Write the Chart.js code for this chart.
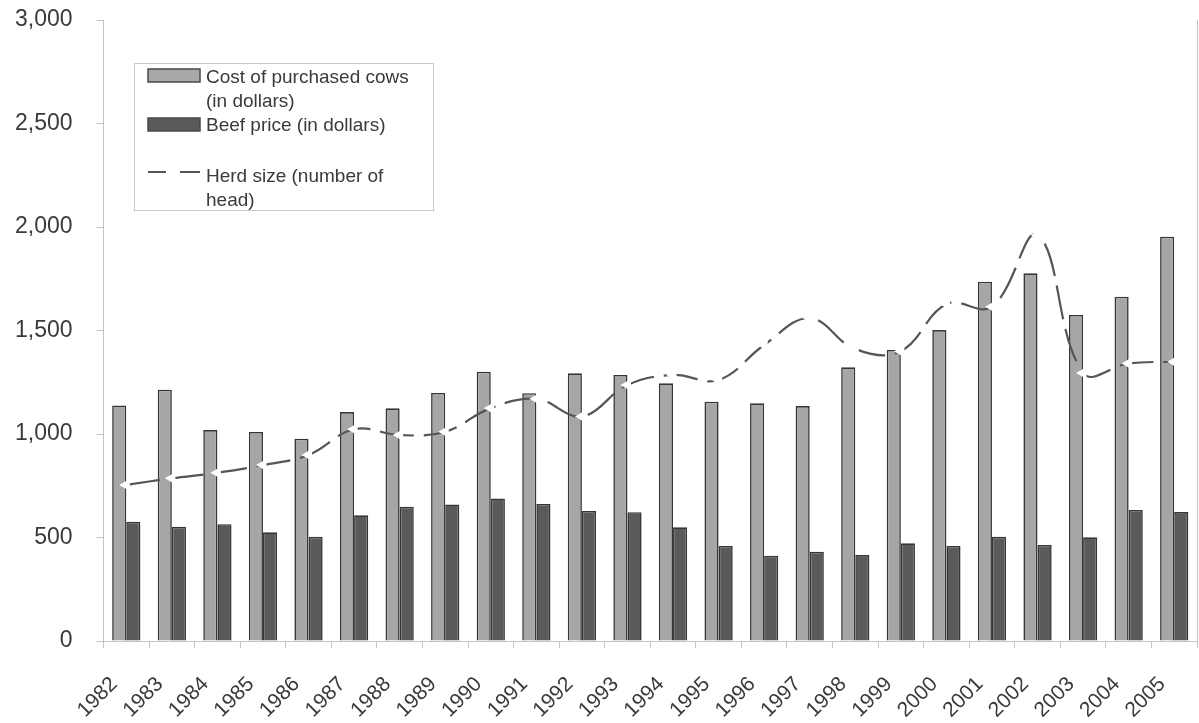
<!DOCTYPE html>
<html>
<head>
<meta charset="utf-8">
<script src="https://cdn.jsdelivr.net/npm/chart.js@4"></script>
<style>
  html, body { margin: 0; padding: 0; background: #fff; overflow: hidden; }
  /* un poco más ancho: Chart.js deja ~7px a la derecha por la última etiqueta girada */
  #wrap { width: 1204px; height: 723px; position: relative; }
  canvas { display: block; }
</style>
</head>
<body>
<div id="wrap"><canvas id="chart"></canvas></div>
<script>
// datos
const years = ['1982','1983','1984','1985','1986','1987','1988','1989','1990','1991','1992','1993',
               '1994','1995','1996','1997','1998','1999','2000','2001','2002','2003','2004','2005'];
const cowCost = [1138,1214,1019,1010,977,1106,1124,1198,1301,1197,1293,1285,
                 1245,1156,1148,1135,1322,1406,1502,1736,1776,1575,1663,1953];
const beefPrice = [576,552,564,525,504,607,649,660,689,662,628,622,
                   549,459,412,431,415,472,459,504,464,501,633,623];
const herdSize = [754,786,813,850,899,1023,995,1011,1125,1170,1085,1237,
                  1285,1261,1430,1559,1410,1400,1628,1615,1961,1295,1341,1349];
const yTicks = [0,500,1000,1500,2000,2500,3000];

const legendLabels = [
    ['Cost of purchased cows', '(in dollars)'],
    ['Beef price (in dollars)'],
    ['Herd size (number of', 'head)']
];

const textColor = '#3a3a3a';
const axisColor = '#c4c4c4';
const fontFamily = '"Liberation Sans", Arial, sans-serif';

// Leyenda dibujada a mano y borde derecho
const extraPlugin = {
    id: 'extra',
    afterDraw(chart) {
        const ctx = chart.ctx;
        const area = chart.chartArea;
        ctx.save();
        // borde derecho
        ctx.strokeStyle = axisColor;
        ctx.lineWidth = 1;
        ctx.beginPath();
        ctx.moveTo(area.right + 0.5, area.top);
        ctx.lineTo(area.right + 0.5, area.bottom);
        ctx.stroke();

        // caja de la leyenda
        ctx.fillStyle = '#fff';
        ctx.fillRect(134, 63, 299, 147);
        ctx.strokeStyle = '#c8c8c8';
        ctx.strokeRect(134.5, 63.5, 299, 147);

        // muestras
        ctx.fillStyle = '#a8a8a8';
        ctx.strokeStyle = '#4a4a4a';
        ctx.lineWidth = 1.5;
        ctx.fillRect(148, 69, 52, 13);
        ctx.strokeRect(148, 69, 52, 13);
        ctx.fillStyle = '#5a5a5a';
        ctx.fillRect(148, 118, 52, 13);
        ctx.strokeRect(148, 118, 52, 13);
        ctx.strokeStyle = '#555';
        ctx.lineWidth = 2;
        ctx.beginPath();
        ctx.moveTo(148, 172); ctx.lineTo(166, 172);
        ctx.moveTo(180, 172); ctx.lineTo(200, 172);
        ctx.stroke();

        // textos
        ctx.fillStyle = textColor;
        ctx.font = '19px ' + fontFamily;
        ctx.textBaseline = 'alphabetic';
        ctx.fillText(legendLabels[0][0], 206, 82.5);
        ctx.fillText(legendLabels[0][1], 206, 106.5);
        ctx.fillText(legendLabels[1][0], 206, 131);
        ctx.fillText(legendLabels[2][0], 206, 182);
        ctx.fillText(legendLabels[2][1], 206, 205.5);
        ctx.restore();
    }
};

const ctx = document.getElementById('chart').getContext('2d');
const chart = new Chart(ctx, {
    type: 'bar',
    data: {
        labels: years,
        datasets: [
            {
                type: 'line',
                label: 'Herd size (number of head)',
                data: herdSize,
                borderColor: '#555555',
                borderWidth: 2.2,
                borderDash: [34, 10],
                tension: 0.4,
                pointStyle: 'triangle',
                rotation: -90,
                pointRadius: 7,
                pointBackgroundColor: '#ffffff',
                pointBorderWidth: 0,
                fill: false,
                order: 0
            },
            {
                label: 'Cost of purchased cows (in dollars)',
                data: cowCost,
                backgroundColor: '#a6a6a6',
                borderColor: '#363636',
                borderWidth: 1.6,
                categoryPercentage: 0.62,
                barPercentage: 1.0,
                order: 1
            },
            {
                label: 'Beef price (in dollars)',
                data: beefPrice,
                backgroundColor: '#5a5a5a',
                borderColor: '#363636',
                borderWidth: 1.6,
                categoryPercentage: 0.62,
                barPercentage: 1.0,
                order: 2
            }
        ]
    },
    options: {
        responsive: true,
        maintainAspectRatio: false,
        animation: false,
        layout: { padding: { top: 20, right: 2, left: 0, bottom: 0 } },
        plugins: {
            legend: { display: false },
            tooltip: { enabled: false }
        },
        scales: {
            x: {
                grid: {
                    display: true,
                    drawOnChartArea: false,
                    drawTicks: true,
                    tickLength: 7,
                    color: axisColor
                },
                border: { color: axisColor },
                ticks: {
                    autoSkip: false,
                    minRotation: 45,
                    maxRotation: 45,
                    padding: 24,
                    labelOffset: -12,
                    color: textColor,
                    font: { family: fontFamily, size: 21 }
                },
                afterFit(scale) {
                    scale.height = 82;
                    scale.paddingLeft = 0;
                    scale.paddingRight = 0;
                }
            },
            y: {
                min: 0,
                max: 3000,
                afterBuildTicks(scale) { scale.ticks = yTicks.map(v => ({ value: v })); },
                grid: {
                    display: true,
                    drawOnChartArea: false,
                    drawTicks: true,
                    tickLength: 7,
                    color: axisColor
                },
                border: { color: axisColor },
                ticks: {
                    padding: 24,
                    color: textColor,
                    font: { family: fontFamily, size: 23 }
                },
                afterFit(scale) {
                    scale.width = 103.5;
                    scale.paddingTop = 0;
                    scale.paddingBottom = 0;
                }
            }
        }
    },
    plugins: [extraPlugin]
});
</script>
</body>
</html>
